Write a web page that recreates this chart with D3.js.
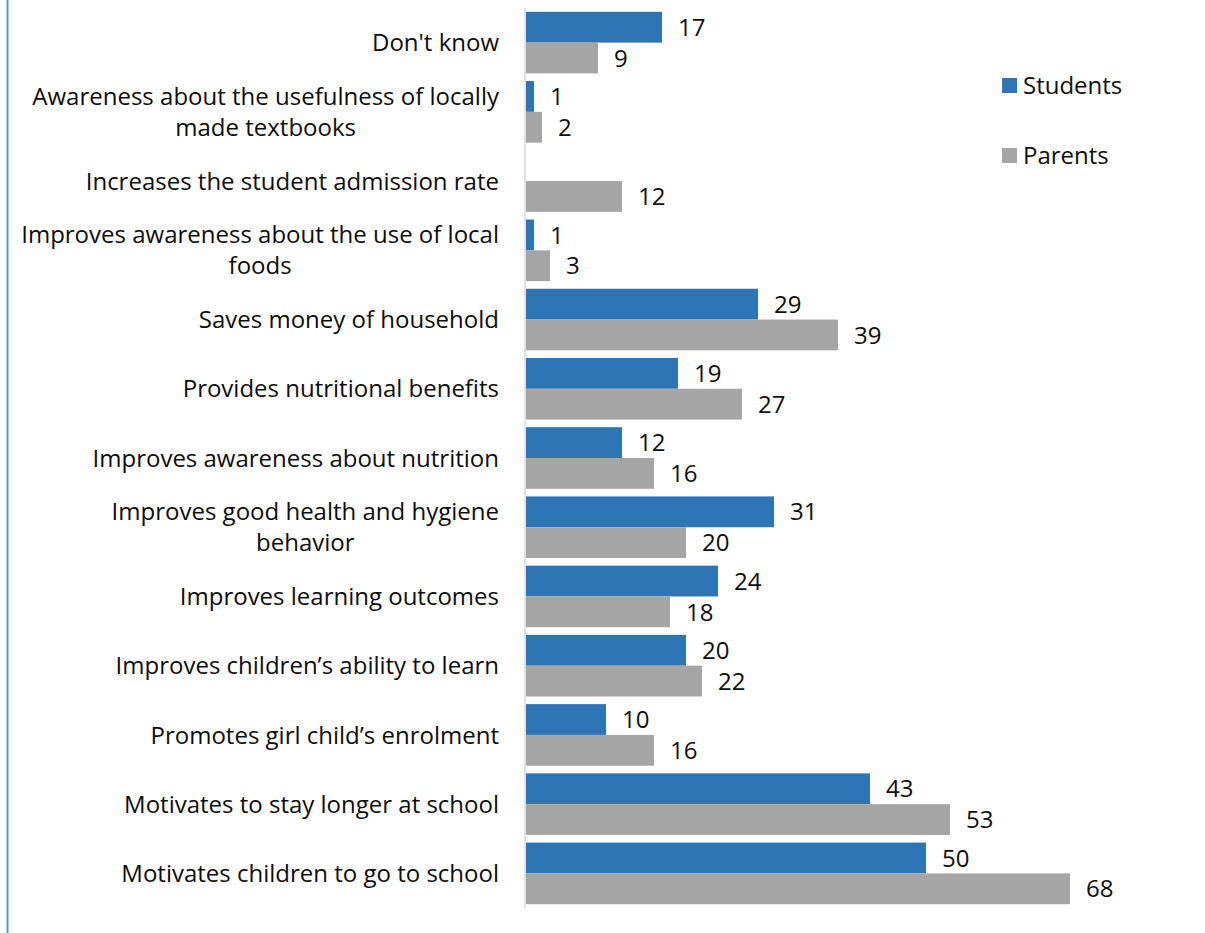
<!DOCTYPE html>
<html>
<head>
<meta charset="utf-8">
<script src="https://cdn.jsdelivr.net/npm/d3@7"></script>
<style>
  body { margin: 0; background: #fff; }
  svg text { font-family: "Open Sans", sans-serif; fill: #0d0d0d; }
</style>
</head>
<body>
<svg id="chart" width="1205" height="933"></svg>
<script>
// categories, top to bottom (\n = line break as in the original)
const categories = [
    "Don't know",
    "Awareness about the usefulness of locally\nmade textbooks",
    "Increases the student admission rate",
    "Improves awareness about the use of local\nfoods",
    "Saves money of household",
    "Provides nutritional benefits",
    "Improves awareness about nutrition",
    "Improves good health and hygiene\nbehavior",
    "Improves learning outcomes",
    "Improves children’s ability to learn",
    "Promotes girl child’s enrolment",
    "Motivates to stay longer at school",
    "Motivates children to go to school"
];
const students = [17, 1, null, 1, 29, 19, 12, 31, 24, 20, 10, 43, 50];
const parents = [9, 2, 12, 3, 39, 27, 16, 20, 18, 22, 16, 53, 68];
const seriesNames = ["Students", "Parents"];
const seriesColors = ["#2e75b6", "#a5a5a5"];

const fontSize = "24px";
const svg = d3.select("#chart");

// left border line
svg.append("line")
    .attr("x1", 7.5).attr("x2", 7.5)
    .attr("y1", 0).attr("y2", 933)
    .attr("stroke", "#5b9bd5")
    .attr("stroke-width", 2);

const x0 = 526;
const x = d3.scaleLinear().domain([0, 68]).range([x0, 1070]);

const y = d3.scaleBand()
    .domain(d3.range(categories.length))
    .range([8, 908])
    .paddingInner(0.11)
    .paddingOuter(0.055);

const sub = d3.scaleBand()
    .domain([0, 1])
    .range([0, y.bandwidth()]);

const series = [students, parents];

series.forEach((vals, s) => {
    const g = svg.append("g");
    vals.forEach((v, i) => {
        if (v == null) return;
        const yy = y(i) + sub(s);
        g.append("rect")
            .attr("x", x(0))
            .attr("y", yy)
            .attr("width", x(v) - x(0))
            .attr("height", sub.bandwidth())
            .attr("fill", seriesColors[s]);
        g.append("text")
            .attr("x", x(v) + 16)
            .attr("y", yy + sub.bandwidth() / 2)
            .attr("dy", "0.36em")
            .style("font-size", fontSize)
            .text(v);
    });
});

// axis line
svg.append("line")
    .attr("x1", 525).attr("x2", 525)
    .attr("y1", 8).attr("y2", 908)
    .attr("stroke", "#d9d9d9")
    .attr("stroke-width", 1.5);

// category labels: block right aligned, lines centred inside the block
const labelRight = 499;
categories.forEach((c, i) => {
    const lines = c.split("\n");
    const cy = y(i) + y.bandwidth() / 2;
    const lh = 31;
    const t = svg.append("text")
        .style("font-size", fontSize);
    const spans = lines.map((ln, k) => t.append("tspan")
        .attr("y", cy + (k - (lines.length - 1) / 2) * lh)
        .attr("dy", "0.36em")
        .text(ln));
    const w = d3.max(spans, sp => sp.node().getComputedTextLength());
    spans.forEach(sp => {
        if (lines.length === 1) {
            sp.attr("x", labelRight).attr("text-anchor", "end");
        } else {
            sp.attr("x", labelRight - w / 2).attr("text-anchor", "middle");
        }
    });
});

// legend
seriesNames.forEach((n, s) => {
    const ly = 85 + s * 70;
    svg.append("rect")
        .attr("x", 1002).attr("y", ly - 7)
        .attr("width", 15).attr("height", 15)
        .attr("fill", seriesColors[s]);
    svg.append("text")
        .attr("x", 1023).attr("y", ly)
        .attr("dy", "0.36em")
        .style("font-size", fontSize)
        .text(n);
});
</script>
</body>
</html>
